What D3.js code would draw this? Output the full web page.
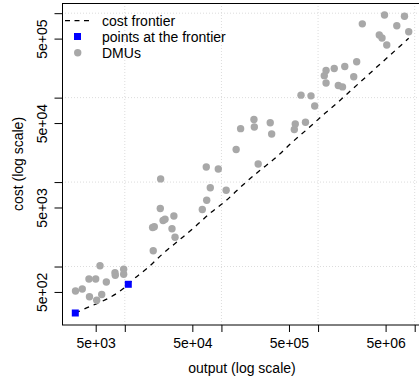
<!DOCTYPE html>
<html>
<head>
<meta charset="utf-8">
<script src="https://cdn.jsdelivr.net/npm/d3@7"></script>
<style>
  body { margin: 0; background: #fff; }
  svg text { font-family: "Liberation Sans", Arial, sans-serif; font-size: 14px; fill: #000; }
</style>
</head>
<body>
<div class="chart"></div>
<script>
// DMUs (output, cost)
var dmuOutput = [3090, 3630, 4310, 4260, 5000, 5540, 5120, 5770, 6440, 7920, 7970, 9740, 9740,
  19700, 19400, 20200, 23300, 24900, 26100, 30800, 32200, 33100, 23500,
  63400, 70400, 76700, 112000, 69700, 92800, 142000, 240000, 158000, 217000, 219000,
  320000, 331000, 581000, 568000, 741000, 666000, 845000, 923000,
  1160000, 1210000, 1210000, 1470000, 1890000, 2510000, 2340000, 1620000, 1790000,
  2870000, 4870000, 7840000, 6530000, 4300000, 4590000, 5140000, 8670000];
var dmuCost = [513, 542, 439, 712, 712, 1020, 398, 466, 656, 845, 787, 927, 809,
  1540, 2900, 2960, 4860, 3510, 3630, 2800, 3970, 2220, 10900,
  4730, 6100, 8580, 7990, 15100, 14300, 24300, 16400, 42900, 55100, 44900,
  50500, 37100, 48700, 41900, 51000, 107000, 105000, 79600,
  182000, 210000, 149000, 221000, 234000, 266000, 177000, 139000, 134000,
  748000, 951000, 921000, 711000, 551000, 508000, 420000, 603000];

// points at the frontier
var frontOutput = [3075, 10870];
var frontCost = [281.6, 616];

// cost frontier curve
var curveOutput = [3075, 3756, 10870, 12070, 17510, 25030, 36640, 53270, 76150, 113400, 162100,
  240800, 358400, 533400, 792000, 1179000, 1558000, 2140000, 3614000, 5549000, 8666000];
var curveCost = [281.6, 311.5, 616, 692.4, 979, 1434, 2061, 2961, 4268, 6134, 8983,
  13270, 19110, 29260, 43310, 65220, 85650, 118800, 204400, 317900, 504000];

// axes
var xLabelTicks = [5e3, 5e4, 5e5, 5e6];
var xTickLabels = ["5e+03", "5e+04", "5e+05", "5e+06"];
var xGridTicks = [1e4, 1e5, 1e6, 1e7];
var yLabelTicks = [5e2, 5e3, 5e4, 5e5];
var yTickLabels = ["5e+02", "5e+03", "5e+04", "5e+05"];
var yGridTicks = [1e3, 1e4, 1e5, 1e6];

var legendLabels = ["cost frontier", "points at the frontier", "DMUs"];

var W = 419, H = 381;
var margin = {left: 62, top: 3};
var plotW = 360, plotH = 322;

var svg = d3.select(".chart").append("svg")
  .attr("width", W)
  .attr("height", H);

var g = svg.append("g")
  .attr("transform", "translate(" + margin.left + "," + margin.top + ")");

var x = d3.scaleLog().domain([2240, 1.19e7]).range([0, plotW]);
var y = d3.scaleLog().domain([203, 1.32e6]).range([plotH, 0]);

// grid
g.selectAll("line.gx").data(xGridTicks).enter().append("line")
  .attr("class", "gx")
  .attr("x1", function(d){ return x(d); })
  .attr("x2", function(d){ return x(d); })
  .attr("y1", 0).attr("y2", plotH)
  .attr("stroke", "#dcdcdc").attr("stroke-dasharray", "1,2");

g.selectAll("line.gy").data(yGridTicks).enter().append("line")
  .attr("class", "gy")
  .attr("y1", function(d){ return y(d); })
  .attr("y2", function(d){ return y(d); })
  .attr("x1", 0).attr("x2", plotW)
  .attr("stroke", "#dcdcdc").attr("stroke-dasharray", "1,2");

// x axis
var xAxis = g.append("g")
  .attr("transform", "translate(0," + plotH + ")")
  .call(d3.axisBottom(x)
    .tickValues(xLabelTicks.concat(xGridTicks))
    .tickSize(7).tickSizeOuter(0).tickPadding(6)
    .tickFormat(function(d){
      var i = xLabelTicks.indexOf(d);
      return i >= 0 ? xTickLabels[i] : "";
    }));
xAxis.select(".domain").remove();
xAxis.selectAll("line").attr("stroke", "#000");
xAxis.selectAll("text").attr("font-size", 14).attr("font-family", null);

// y axis
var yAxis = g.append("g")
  .call(d3.axisLeft(y)
    .tickValues(yLabelTicks.concat(yGridTicks))
    .tickSize(7.5).tickSizeOuter(0)
    .tickFormat(function(d){
      var i = yLabelTicks.indexOf(d);
      return i >= 0 ? yTickLabels[i] : "";
    }));
yAxis.select(".domain").remove();
yAxis.selectAll("line").attr("stroke", "#000");
yAxis.selectAll("text")
  .attr("font-size", 14).attr("font-family", null)
  .attr("transform", "rotate(-90)")
  .attr("x", 0).attr("y", -15.5).attr("dy", 0)
  .attr("text-anchor", "middle");

// box
g.append("rect")
  .attr("x", 0.5).attr("y", 0.5)
  .attr("width", plotW).attr("height", plotH - 0.5)
  .attr("fill", "none").attr("stroke", "#000").attr("stroke-width", 1);

// frontier curve
var line = d3.line()
  .x(function(d){ return x(d[0]); })
  .y(function(d){ return y(d[1]); })
  .curve(d3.curveMonotoneX);

g.append("path")
  .datum(d3.zip(curveOutput, curveCost))
  .attr("d", line)
  .attr("fill", "none")
  .attr("stroke", "#000")
  .attr("stroke-width", 1.3)
  .attr("stroke-dasharray", "5,5");

// DMUs
g.selectAll("circle.dmu").data(d3.zip(dmuOutput, dmuCost)).enter().append("circle")
  .attr("class", "dmu")
  .attr("cx", function(d){ return x(d[0]); })
  .attr("cy", function(d){ return y(d[1]); })
  .attr("r", 3.7)
  .attr("fill", "#a8a8a8");

// frontier points
g.selectAll("rect.front").data(d3.zip(frontOutput, frontCost)).enter().append("rect")
  .attr("class", "front")
  .attr("x", function(d){ return x(d[0]) - 3.5; })
  .attr("y", function(d){ return y(d[1]) - 3.5; })
  .attr("width", 7).attr("height", 7)
  .attr("fill", "#0000ff");

// axis titles
svg.append("text")
  .attr("x", margin.left + plotW / 2).attr("y", 373)
  .attr("text-anchor", "middle")
  .text("output (log scale)");

svg.append("text")
  .attr("transform", "translate(23," + (margin.top + plotH / 2) + ") rotate(-90)")
  .attr("text-anchor", "middle")
  .text("cost (log scale)");

// legend
var legend = svg.append("g");
var rowY = [20.7, 36.5, 52.7];

legend.append("line")
  .attr("x1", 65).attr("x2", 91)
  .attr("y1", rowY[0]).attr("y2", rowY[0])
  .attr("stroke", "#000").attr("stroke-width", 1.3)
  .attr("stroke-dasharray", "5,4.5");

legend.append("rect")
  .attr("x", 77.5 - 3.5).attr("y", rowY[1] - 3.5)
  .attr("width", 7).attr("height", 7)
  .attr("fill", "#0000ff");

legend.append("circle")
  .attr("cx", 77.7).attr("cy", rowY[2]).attr("r", 3.7)
  .attr("fill", "#a8a8a8");

legend.selectAll("text").data(legendLabels).enter().append("text")
  .attr("x", 102)
  .attr("y", function(d, i){ return rowY[i] + 5; })
  .text(function(d){ return d; });
</script>
</body>
</html>
